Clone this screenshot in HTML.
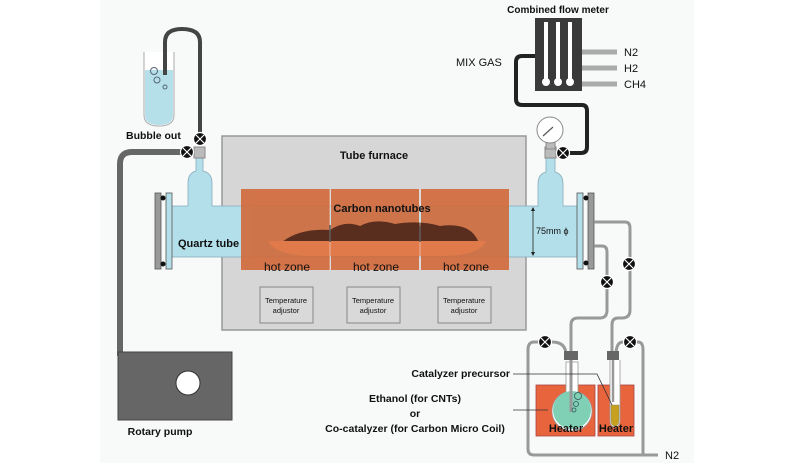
<!DOCTYPE html>
<html><head><meta charset="utf-8"><style>
html,body{margin:0;padding:0;background:#fff}
svg{display:block}
text{font-family:"Liberation Sans",sans-serif;fill:#111}
</style></head><body>
<svg width="794" height="463" viewBox="0 0 794 463" xmlns="http://www.w3.org/2000/svg">
<rect x="100" y="0" width="594" height="463" fill="#f7faf9"/>
<path d="M187,152 H132 Q120,152 120,164 V356" fill="none" stroke="#666" stroke-width="6"/>
<path d="M144,52 V115 Q144,126 159,126 Q174,126 174,115 V52" fill="#fff" stroke="#aaa" stroke-width="1"/>
<path d="M145,70 V115 Q145,125 159,125 Q173,125 173,115 V70 Z" fill="#b5dfe9"/>
<circle cx="154" cy="71" r="3.5" fill="none" stroke="#567" stroke-width="1"/>
<circle cx="157" cy="80" r="3" fill="none" stroke="#567" stroke-width="1"/>
<circle cx="165" cy="87" r="2" fill="none" stroke="#567" stroke-width="1"/>
<path d="M165,75 V42 Q165,29 182,29 Q200,29 200,42 V136" fill="none" stroke="#444" stroke-width="4"/>
<rect x="222" y="136" width="304" height="194" fill="#d6d6d6" stroke="#999" stroke-width="1.5"/>
<text x="374" y="159" font-size="11" font-weight="bold" text-anchor="middle">Tube furnace</text>
<g stroke="#888">
<rect x="260" y="287" width="53" height="36" fill="#d9d9d9"/>
<rect x="347" y="287" width="53" height="36" fill="#d9d9d9"/>
<rect x="438" y="287" width="53" height="36" fill="#d9d9d9"/>
</g>
<g font-size="7.5" text-anchor="middle">
<text x="286" y="303">Temperature</text><text x="286" y="313">adjustor</text>
<text x="373" y="303">Temperature</text><text x="373" y="313">adjustor</text>
<text x="464" y="303">Temperature</text><text x="464" y="313">adjustor</text>
</g>
<path d="M170,206 H188 V183 Q188,173 196,171 V158 H203 V171 Q212,173 212,183 V206 H538 V184 Q538,174 546,172 V158 H555 V172 Q563,174 563,184 V206 H580 V257 H170 Z" fill="#b3dfea" stroke="#8ab" stroke-width="0.8"/>
<rect x="194" y="147" width="11" height="11" fill="#bbb" stroke="#888"/>
<rect x="545" y="147" width="11" height="11" fill="#bbb" stroke="#888"/>
<rect x="155" y="193" width="6" height="76" fill="#999" stroke="#555" stroke-width="0.8"/>
<rect x="166" y="193" width="6" height="76" fill="#b3dfea" stroke="#555" stroke-width="0.8"/>
<circle cx="163" cy="198" r="2.5" fill="#111"/><circle cx="163" cy="264" r="2.5" fill="#111"/>
<rect x="577" y="193" width="6" height="76" fill="#b3dfea" stroke="#555" stroke-width="0.8"/>
<rect x="588" y="193" width="6" height="76" fill="#999" stroke="#555" stroke-width="0.8"/>
<circle cx="586" cy="198" r="2.5" fill="#111"/><circle cx="586" cy="263" r="2.5" fill="#111"/>
<g fill="#d2693a" opacity="0.9">
<rect x="241" y="189" width="89" height="81"/>
<rect x="331" y="189" width="88" height="81"/>
<rect x="421" y="189" width="88" height="81"/>
</g>
<path d="M282,242 Q300,228 330,230 Q345,220 360,226 Q375,218 395,224 Q420,220 440,226 Q470,222 478,241 Z" fill="#5a2e1e"/>
<path d="M268,241 H486 Q480,256 440,256 H305 Q275,254 268,241 Z" fill="#e07a4a"/>
<line x1="330" y1="225" x2="330" y2="242" stroke="#000" stroke-width="1.5"/>
<line x1="420" y1="226" x2="420" y2="242" stroke="#000" stroke-width="1.5"/>
<line x1="330" y1="189" x2="330" y2="270" stroke="#f0e6e0" stroke-width="1" opacity="0.6"/>
<line x1="420" y1="189" x2="420" y2="270" stroke="#f0e6e0" stroke-width="1" opacity="0.6"/>
<text x="382" y="212" font-size="11" font-weight="bold" text-anchor="middle">Carbon nanotubes</text>
<text x="178" y="247" font-size="11" font-weight="bold">Quartz tube</text>
<g font-size="12" text-anchor="middle">
<text x="287" y="271">hot zone</text><text x="376" y="271">hot zone</text><text x="466" y="271">hot zone</text>
</g>
<line x1="533" y1="208" x2="533" y2="255" stroke="#222" stroke-width="0.8"/>
<path d="M531,211 L533,207 L535,211 Z M531,252 L533,256 L535,252 Z" fill="#222"/>
<text x="536" y="234" font-size="9">75mm ϕ</text>
<g stroke="#fff" stroke-width="1.2">
<circle cx="200" cy="139" r="6.5" fill="#111"/><path d="M196,135 L204,143 M204,135 L196,143"/>
<circle cx="187" cy="152" r="6.5" fill="#111"/><path d="M183,148 L191,156 M191,148 L183,156"/>
</g>
<text x="126" y="139" font-size="10.5" font-weight="bold">Bubble out</text>
<rect x="118" y="352" width="114" height="68" fill="#666" stroke="#444"/>
<circle cx="188" cy="383" r="12" fill="#fff" stroke="#333"/>
<text x="160" y="435" font-size="10.5" font-weight="bold" text-anchor="middle">Rotary pump</text>
<text x="558" y="13" font-size="10" font-weight="bold" text-anchor="middle">Combined flow meter</text>
<g stroke="#aaa" stroke-width="5">
<line x1="582" y1="52" x2="617" y2="52"/><line x1="582" y1="68" x2="617" y2="68"/><line x1="582" y1="84" x2="617" y2="84"/>
</g>
<g font-size="11"><text x="624" y="56">N2</text><text x="624" y="72">H2</text><text x="624" y="88">CH4</text></g>
<path d="M535,56 H522 Q516,56 516,62 V99 Q516,105 522,105 H582 Q587,105 587,111 V147 Q587,153 581,153 H563" fill="none" stroke="#222" stroke-width="4"/>
<rect x="535" y="18" width="47" height="73" fill="#3a3a3a"/>
<g fill="#fff"><rect x="544" y="22" width="4" height="57"/><rect x="556" y="22" width="4" height="57"/><rect x="568" y="22" width="4" height="57"/>
<circle cx="546" cy="82" r="4"/><circle cx="558" cy="82" r="4"/><circle cx="570" cy="82" r="4"/></g>
<text x="456" y="66" font-size="11">MIX GAS</text>
<rect x="546" y="141" width="9" height="8" fill="#bbb" stroke="#888"/>
<circle cx="550" cy="130" r="13" fill="#fff" stroke="#888"/>
<path d="M543,136 L553,127" stroke="#555" stroke-width="1.2"/>
<g stroke="#fff" stroke-width="1.2"><circle cx="563" cy="153" r="6.5" fill="#111"/><path d="M559,149 L567,157 M567,149 L559,157"/></g>
<g fill="none" stroke="#999" stroke-width="3">
<path d="M594,222 H625 Q630,222 630,228 V310 Q630,318 622,318 H618 Q612,318 612,325 V355"/>
<path d="M594,246 H602 Q607,246 607,252 V310 Q607,318 600,318 H578 Q571,318 571,325 V355"/>
<path d="M545,342 H534 Q528,342 528,350 V449 Q528,455 534,455 H658"/>
<path d="M630,342 H638 Q643,342 643,350 V455"/>
<path d="M552,342 Q566,342 566,355"/><path d="M623,342 Q616,342 616,355"/>
</g>
<g stroke="#fff" stroke-width="1.2">
<circle cx="629" cy="264" r="6.5" fill="#111"/><path d="M625,260 L633,268 M633,260 L625,268"/>
<circle cx="607" cy="282" r="6.5" fill="#111"/><path d="M603,278 L611,286 M611,278 L603,286"/>
<circle cx="545" cy="342" r="6.5" fill="#111"/><path d="M541,338 L549,346 M549,338 L541,346"/>
<circle cx="630" cy="342" r="6.5" fill="#111"/><path d="M626,338 L634,346 M634,338 L626,346"/>
</g>
<text x="665" y="459" font-size="11">N2</text>
<rect x="536" y="385" width="59" height="51" fill="#e8643c" stroke="#a44" stroke-width="0.8"/>
<rect x="598" y="385" width="36" height="51" fill="#e8643c" stroke="#a44" stroke-width="0.8"/>
<path d="M566,362 V392 A20,20 0 1 0 578,392 V362 Z" fill="#fff" stroke="#999" stroke-width="0.8"/>
<circle cx="572" cy="410" r="19" fill="#80d0b6"/>
<line x1="571" y1="356" x2="571" y2="412" stroke="#999" stroke-width="3"/>
<circle cx="578" cy="396" r="3.5" fill="none" stroke="#355" stroke-width="0.8"/>
<circle cx="576" cy="404" r="2.5" fill="none" stroke="#355" stroke-width="0.8"/>
<circle cx="574" cy="410" r="2" fill="none" stroke="#355" stroke-width="0.8"/>
<rect x="564" y="351" width="14" height="9" fill="#666"/>
<path d="M610,360 V420 Q610,427 615,427 Q620,427 620,420 V360" fill="#fff" stroke="#999" stroke-width="0.8"/>
<path d="M611,405 V420 Q611,426 615,426 Q619,426 619,420 V405 Z" fill="#c8a020" stroke="#886" stroke-width="0.5"/>
<line x1="613" y1="356" x2="613" y2="402" stroke="#999" stroke-width="2.5"/>
<rect x="607" y="351" width="12" height="9" fill="#666"/>
<text x="566" y="432" font-size="11" font-weight="bold" text-anchor="middle">Heater</text>
<text x="616" y="432" font-size="11" font-weight="bold" text-anchor="middle">Heater</text>
<text x="510" y="377" font-size="10.5" font-weight="bold" text-anchor="end">Catalyzer precursor</text>
<path d="M513,374 H597 L612,405" fill="none" stroke="#333" stroke-width="0.8"/>
<text x="415" y="402" font-size="10.5" font-weight="bold" text-anchor="middle">Ethanol (for CNTs)</text>
<text x="415" y="417" font-size="10.5" font-weight="bold" text-anchor="middle">or</text>
<text x="415" y="432" font-size="10.5" font-weight="bold" text-anchor="middle">Co-catalyzer (for Carbon Micro Coil)</text>
<line x1="513" y1="410" x2="548" y2="410" stroke="#333" stroke-width="0.8"/>
</svg>
</body></html>
